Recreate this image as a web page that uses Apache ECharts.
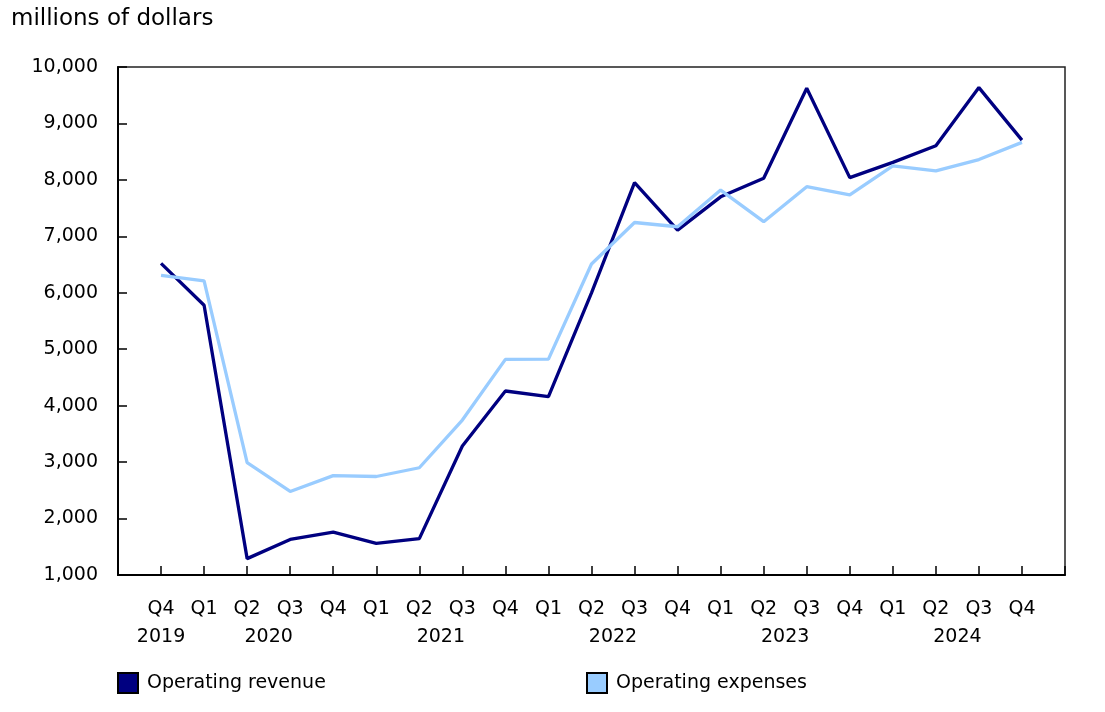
<!DOCTYPE html>
<html>
<head>
<meta charset="utf-8">
<script src="https://cdn.jsdelivr.net/npm/echarts@6/dist/echarts.min.js"></script>
<style>
html,body{margin:0;padding:0;background:#fff;}
#c{width:1105px;height:712px;}
</style>
</head>
<body>
<div id="c"></div>
<script>
const quarters = ['Q4','Q1','Q2','Q3','Q4','Q1','Q2','Q3','Q4','Q1','Q2','Q3','Q4','Q1','Q2','Q3','Q4','Q1','Q2','Q3','Q4'];
const years = [['2019',0],['2020',2.5],['2021',6.5],['2022',10.5],['2023',14.5],['2024',18.5]];
const revenue = [6520,5780,1290,1630,1760,1560,1645,3285,4260,4160,6000,7950,7110,7700,8030,9625,8040,8310,8605,9635,8705];
const expenses = [6310,6210,2990,2480,2760,2745,2900,3745,4820,4825,6510,7245,7170,7820,7260,7880,7735,8250,8160,8360,8665];
const yTicks = {min:1000,max:10000,interval:1000};
const FONT = 'DejaVu Sans';
const FS = 19;

const revData = revenue.map((v,i)=>[i,v]);
const expData = expenses.map((v,i)=>[i,v]);
const yearMap = {};
years.forEach(([y,p])=>{yearMap[p]=y;});

const chart = echarts.init(document.getElementById('c'));
chart.setOption({
  animation:false,
  textStyle:{fontFamily:FONT,color:'#000'},
  title:{text:'millions of dollars',left:11,top:8,padding:[0,0,0,0],textStyle:{fontFamily:FONT,fontSize:23,fontWeight:'normal',color:'#000'}},
  grid:{left:118,right:40,top:67,bottom:137,show:true,borderColor:'#222',borderWidth:1.5},
  legend:[
    {left:117,top:672,padding:0,itemWidth:20,itemHeight:20,icon:'rect',
     textStyle:{fontFamily:FONT,fontSize:FS,color:'#000',padding:[0,0,0,4]},data:['Operating revenue']},
    {left:586,top:672,padding:0,itemWidth:20,itemHeight:20,icon:'rect',
     textStyle:{fontFamily:FONT,fontSize:FS,color:'#000',padding:[0,0,0,4]},data:['Operating expenses']}
  ],
  xAxis:[
    {type:'value',min:-1,max:quarters.length,interval:1,position:'bottom',
     axisLine:{show:true,onZero:false,lineStyle:{color:'#000',width:2}},
     axisTick:{show:true,inside:true,length:9,lineStyle:{color:'#000',width:1.5}},
     splitLine:{show:false},
     axisLabel:{margin:25,fontFamily:FONT,fontSize:FS,color:'#000',showMinLabel:true,showMaxLabel:true,
       formatter:v=>(v>=0&&v<quarters.length&&Number.isInteger(v))?quarters[v]:''}},
    {type:'value',min:-1,max:quarters.length,interval:0.5,position:'bottom',offset:28,
     axisLine:{show:false},axisTick:{show:false},splitLine:{show:false},
     axisLabel:{margin:25,fontFamily:FONT,fontSize:FS,color:'#000',
       formatter:v=>yearMap[v]!==undefined?yearMap[v]:''}}
  ],
  yAxis:{type:'value',min:yTicks.min,max:yTicks.max,interval:yTicks.interval,
    axisLine:{show:true,onZero:false,lineStyle:{color:'#000',width:2}},
    axisTick:{show:true,inside:true,length:9,lineStyle:{color:'#000',width:1.5}},
    splitLine:{show:false},
    axisLabel:{margin:20,fontFamily:FONT,fontSize:FS,color:'#000',
      formatter:v=>v.toLocaleString('en-US')}},
  series:[
    {name:'Operating revenue',type:'line',data:revData,xAxisIndex:0,showSymbol:false,symbol:'none',
     lineStyle:{color:'#000080',width:3.3},itemStyle:{color:'#000080',borderColor:'#000',borderWidth:1.5}},
    {name:'Operating expenses',type:'line',data:expData,xAxisIndex:0,showSymbol:false,symbol:'none',
     lineStyle:{color:'#99ccff',width:3.3},itemStyle:{color:'#99ccff',borderColor:'#000',borderWidth:1.5}}
  ]
});
</script>
</body>
</html>
